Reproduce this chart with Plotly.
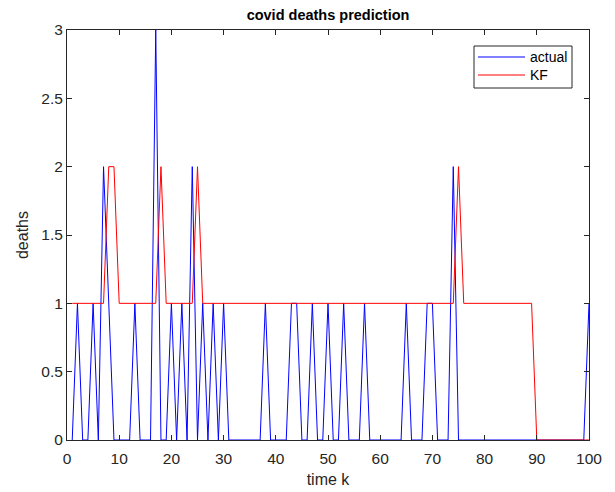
import plotly.graph_objects as go

k = list(range(1, 101))
actual = [0,1,0,0,1,0,2,1,0,0,
          0,0,1,0,0,0,3,0,0,1,
          0,1,0,2,0,1,0,1,0,1,
          0,0,0,0,0,0,0,1,0,0,
          0,0,1,1,0,0,1,0,0,1,
          0,0,1,0,0,0,1,0,0,0,
          0,0,0,0,1,0,0,0,1,1,
          0,0,0,2,0,0,0,0,0,0,
          0,0,0,0,0,0,0,0,0,0,
          0,0,0,0,0,0,0,0,0,1]
kf = [1,1,1,1,1,1,1,2,2,1,
      1,1,1,1,1,1,1,2,1,1,
      1,1,1,1,2,1,1,1,1,1,
      1,1,1,1,1,1,1,1,1,1,
      1,1,1,1,1,1,1,1,1,1,
      1,1,1,1,1,1,1,1,1,1,
      1,1,1,1,1,1,1,1,1,1,
      1,1,1,1,2,1,1,1,1,1,
      1,1,1,1,1,1,1,1,1,0,
      0,0,0,0,0,0,0,0,0,0]
x_ticks = [0, 10, 20, 30, 40, 50, 60, 70, 80, 90, 100]
y_ticks = [0, 0.5, 1, 1.5, 2, 2.5, 3]
y_tick_labels = ["0", "0.5", "1", "1.5", "2", "2.5", "3"]
series_names = ["actual", "KF"]
series_colors = ["#0000ff", "#ff0000"]

W, H = 615, 492
L, R, T, B = 67, 26, 30, 52
PW, PH = W - L - R, H - T - B

def px(xp):
    return (xp - L) / PW

def py(yp):
    return (H - B - yp) / PH

fig = go.Figure()
for name, yv, col in zip(series_names, [actual, kf], series_colors):
    fig.add_trace(go.Scatter(x=k, y=yv, mode="lines", name=name, showlegend=False,
                             line=dict(color=col, width=1)))

FONT = "Liberation Sans, Arial"
axis_common = dict(showline=True, linecolor="#262626", linewidth=1, mirror="ticks",
                   ticks="inside", ticklen=5, tickcolor="#262626", showgrid=False,
                   zeroline=False, automargin=False,
                   tickfont=dict(family=FONT, size=15.5, color="#262626"))

# custom legend box (MATLAB style)
shapes = [dict(type="rect", xref="paper", yref="paper", x0=px(474), x1=px(572),
               y0=py(88), y1=py(46), line=dict(color="#262626", width=1),
               fillcolor="white", layer="above")]
annotations = []
for i, (name, col) in enumerate(zip(series_names, series_colors)):
    yy = 57 + 18 * i
    shapes.append(dict(type="line", xref="paper", yref="paper", x0=px(478), x1=px(525),
                       y0=py(yy), y1=py(yy), line=dict(color=col, width=1), layer="above"))
    annotations.append(dict(text=name, xref="paper", yref="paper", x=px(528), y=py(yy),
                            xanchor="left", yanchor="middle", showarrow=False,
                            font=dict(family=FONT, size=14, color="black")))

fig.update_layout(
    width=W, height=H,
    margin=dict(l=L, r=R, t=T, b=B),
    paper_bgcolor="white", plot_bgcolor="white",
    font=dict(family=FONT, color="#262626"),
    title=dict(text="<b>covid deaths prediction</b>", x=0.5, xref="paper", y=1 - 15/H,
               yanchor="middle", xanchor="center",
               font=dict(family=FONT, size=14.5, color="black")),
    xaxis=dict(range=[0, 100], tickvals=x_ticks, ticktext=[str(v) for v in x_ticks],
               ticklabelstandoff=4,
               title=dict(text="time k", font=dict(size=16, color="#262626"), standoff=8),
               **axis_common),
    yaxis=dict(range=[0, 3], tickvals=y_ticks, ticktext=y_tick_labels,
               title=dict(text="deaths", font=dict(size=16, color="#262626"), standoff=8),
               **axis_common),
    shapes=shapes,
    annotations=annotations,
    showlegend=False,
)

fig.write_html("out.html")
